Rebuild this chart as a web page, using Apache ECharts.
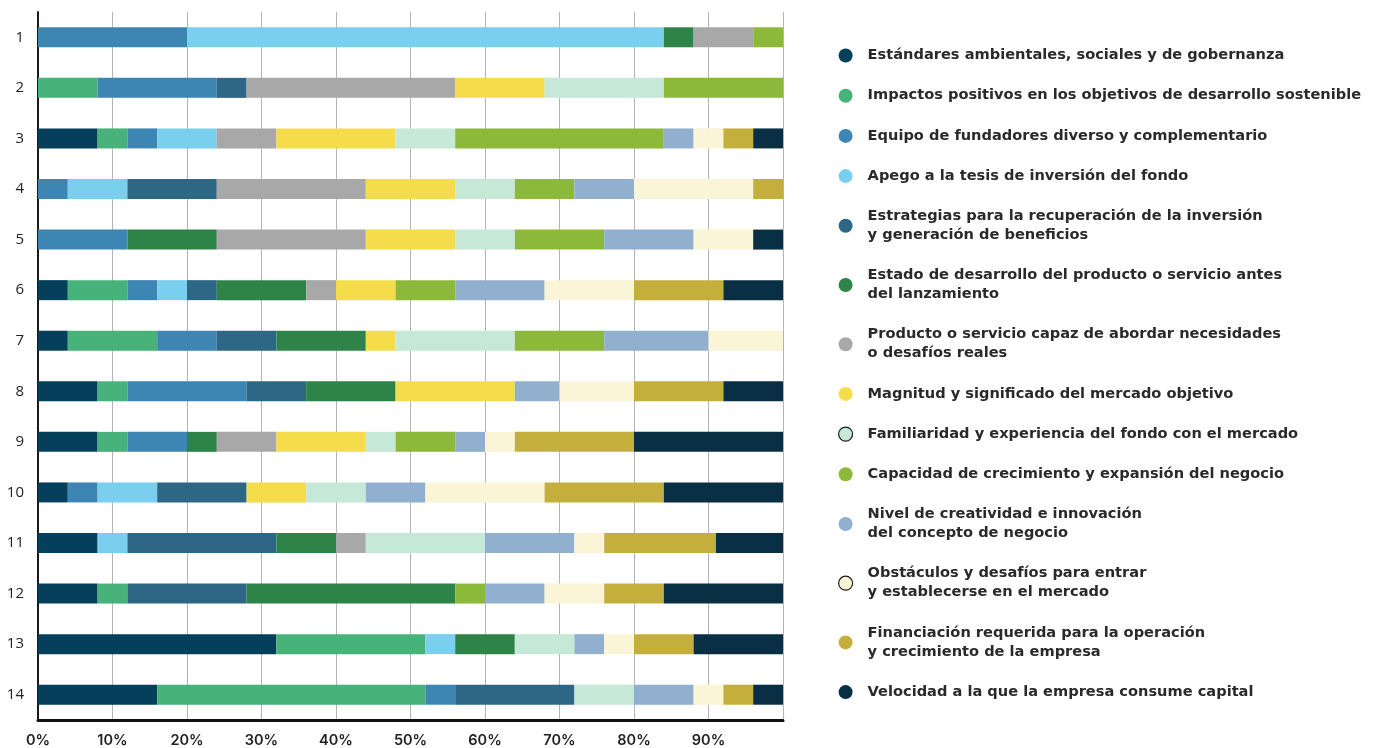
<!DOCTYPE html>
<html>
<head>
<meta charset="utf-8">
<script src="https://cdn.jsdelivr.net/npm/echarts/dist/echarts.min.js"></script>
<style>
  html, body { margin: 0; padding: 0; background: #ffffff; }
  #chart { width: 1379px; height: 748px; }
</style>
</head>
<body>
<div id="chart"></div>
<script>
// Rows (respondent groups), top to bottom
const categories = ['1','2','3','4','5','6','7','8','9','10','11','12','13','14'];

// Share (%) of each criterion per row
const esg          = [0, 0, 8, 0, 0, 4, 4, 8, 8, 4, 8, 8, 32, 16];
const impactos     = [0, 8, 4, 0, 0, 8, 12, 4, 4, 0, 0, 4, 20, 36];
const equipo       = [20, 16, 4, 4, 12, 4, 8, 16, 8, 4, 0, 0, 0, 4];
const apego        = [64, 0, 8, 8, 0, 4, 0, 0, 0, 8, 4, 0, 4, 0];
const estrategias  = [0, 4, 0, 12, 0, 4, 8, 8, 0, 12, 20, 16, 0, 16];
const estado       = [4, 0, 0, 0, 12, 12, 12, 12, 4, 0, 8, 28, 8, 0];
const producto     = [8, 28, 8, 20, 20, 4, 0, 0, 8, 0, 4, 0, 0, 0];
const magnitud     = [0, 12, 16, 12, 12, 8, 4, 16, 12, 8, 0, 0, 0, 0];
const familiaridad = [0, 16, 8, 8, 8, 0, 16, 0, 4, 8, 16, 0, 8, 8];
const capacidad    = [4, 16, 28, 8, 12, 8, 12, 0, 8, 0, 0, 4, 0, 0];
const nivel        = [0, 0, 4, 8, 12, 12, 14, 6, 4, 8, 12, 8, 4, 8];
const obstaculos   = [0, 0, 4, 16, 8, 12, 10, 10, 4, 16, 4, 8, 4, 4];
const financiacion = [0, 0, 4, 4, 0, 12, 0, 12, 16, 16, 15, 8, 8, 4];
const velocidad    = [0, 0, 4, 0, 4, 8, 0, 8, 20, 16, 9, 16, 12, 4];

const xTicks = [0, 10, 20, 30, 40, 50, 60, 70, 80, 90];

const seriesDefs = [
  { name: 'Estándares ambientales, sociales y de gobernanza', data: esg, color: '#043F5B' },
  { name: 'Impactos positivos en los objetivos de desarrollo sostenible', data: impactos, color: '#47B27A' },
  { name: 'Equipo de fundadores diverso y complementario', data: equipo, color: '#3D85B3' },
  { name: 'Apego a la tesis de inversión del fondo', data: apego, color: '#7BCFEE' },
  { name: 'Estrategias para la recuperación de la inversión\ny generación de beneficios', data: estrategias, color: '#2E6786' },
  { name: 'Estado de desarrollo del producto o servicio antes\ndel lanzamiento', data: estado, color: '#2E8348' },
  { name: 'Producto o servicio capaz de abordar necesidades\no desafíos reales', data: producto, color: '#A8A8A8' },
  { name: 'Magnitud y significado del mercado objetivo', data: magnitud, color: '#F4DC4A' },
  { name: 'Familiaridad y experiencia del fondo con el mercado', data: familiaridad, color: '#C5E8D7', outline: true },
  { name: 'Capacidad de crecimiento y expansión del negocio', data: capacidad, color: '#8DB93A' },
  { name: 'Nivel de creatividad e innovación\ndel concepto de negocio', data: nivel, color: '#91AFCF' },
  { name: 'Obstáculos y desafíos para entrar\ny establecerse en el mercado', data: obstaculos, color: '#FBF5D8', outline: true },
  { name: 'Financiación requerida para la operación\ny crecimiento de la empresa', data: financiacion, color: '#C5AF3C' },
  { name: 'Velocidad a la que la empresa consume capital', data: velocidad, color: '#082F44' }
];

const chart = echarts.init(document.getElementById('chart'), null, { renderer: 'canvas' });

const option = {
  animation: false,
  backgroundColor: '#ffffff',
  grid: { left: 38, right: 596, top: 12, bottom: 27, containLabel: false },
  legend: {
    orient: 'vertical',
    left: 838,
    top: 46,
    padding: 0,
    icon: 'circle',
    itemWidth: 14,
    itemHeight: 14,
    itemGap: 21.2,
    selectedMode: false,
    textStyle: {
      fontFamily: '"DejaVu Sans", sans-serif',
      fontSize: 14.6,
      fontWeight: 700,
      color: '#2a2a2a',
      lineHeight: 19,
      padding: [0, 0, 0, 10]
    },
    data: seriesDefs.map(s => s.outline
      ? { name: s.name, itemStyle: { color: s.color, borderColor: '#1a1a1a', borderWidth: 1.2 } }
      : { name: s.name })
  },
  xAxis: {
    type: 'value',
    min: 0,
    max: 100,
    interval: 10,
    axisLine: { show: true, onZero: false, lineStyle: { color: '#111111', width: 3 } },
    axisTick: { show: false },
    splitLine: { show: true, lineStyle: { color: '#b4b4b4', width: 1 } },
    axisLabel: {
      margin: 13,
      fontFamily: 'Inter, sans-serif',
      fontSize: 14.5,
      fontWeight: 600,
      color: '#222222',
      formatter: v => xTicks.includes(v) ? v + '%' : ''
    }
  },
  yAxis: {
    type: 'category',
    inverse: true,
    data: categories,
    axisLine: { show: true, lineStyle: { color: '#1a1a1a', width: 2 } },
    axisTick: { show: false },
    axisLabel: {
      margin: 14,
      fontFamily: '"Open Sans", sans-serif',
      fontSize: 15,
      color: '#222222'
    }
  },
  series: seriesDefs.map(s => ({
    name: s.name,
    type: 'bar',
    stack: 'total',
    barWidth: 20,
    itemStyle: { color: s.color },
    emphasis: { disabled: true },
    data: s.data
  }))
};

chart.setOption(option);
</script>
</body>
</html>
